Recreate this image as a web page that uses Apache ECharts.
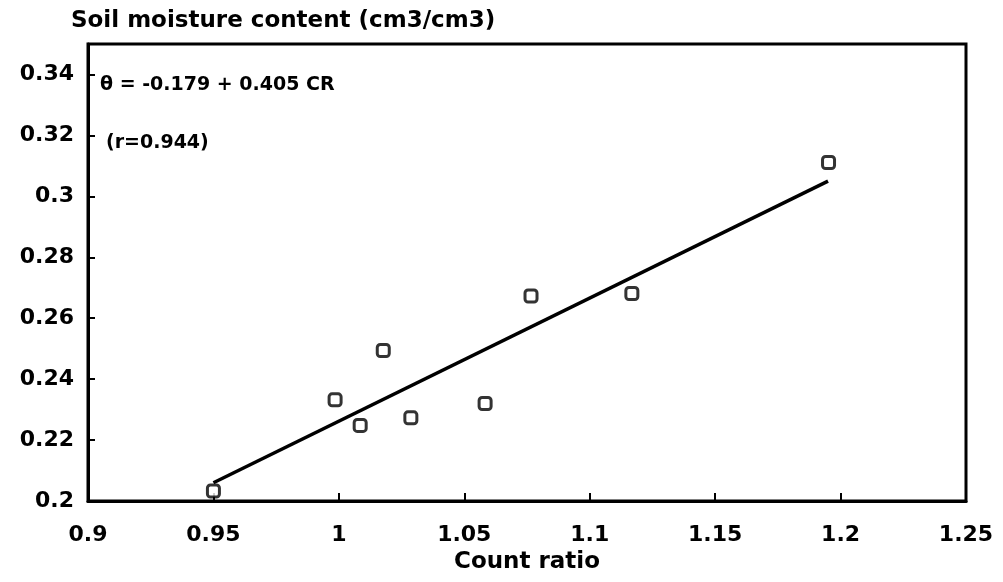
<!DOCTYPE html>
<html>
<head>
<meta charset="utf-8">
<script src="https://cdn.jsdelivr.net/npm/echarts@6/dist/echarts.min.js"></script>
<style>
  html, body { margin: 0; padding: 0; background: #fff; }
  #chart { width: 1003px; height: 582px; }
</style>
</head>
<body>
<div id="chart"></div>
<script>
// measured points (count ratio vs soil moisture)
var countRatio = [0.95, 0.9985, 1.0085, 1.0177, 1.0287, 1.0583, 1.0766, 1.1168, 1.1952];
var moisture   = [0.2033, 0.2332, 0.2248, 0.2494, 0.2273, 0.2320, 0.2673, 0.2681, 0.3111];
// regression line ends
var fitX = [0.95, 1.195];
var fitY = [0.206, 0.305];
var xTicks = [0.9, 0.95, 1, 1.05, 1.1, 1.15, 1.2, 1.25];
var yTicks = [0.2, 0.22, 0.24, 0.26, 0.28, 0.3, 0.32, 0.34];

window.onload = () => {
    var myChart = echarts.init(document.getElementById('chart'));
    var font = 'DejaVu Sans';
    myChart.setOption({
        animation: false,
        title: {
            text: 'Soil moisture content (cm3/cm3)',
            left: 66,
            top: 5,
            textStyle: { fontFamily: font, fontWeight: 'bold', fontSize: 23, color: '#000' }
        },
        grid: {
            left: 88, right: 37, top: 44, bottom: 81,
            show: true,
            borderColor: '#000',
            borderWidth: 3
        },
        graphic: [
            {
                type: 'text', left: 100, top: 76,
                style: { text: 'θ = -0.179 + 0.405 CR', fontFamily: font, fontWeight: 'bold', fontSize: 19, fill: '#000' }
            },
            {
                type: 'text', left: 106, top: 134,
                style: { text: '(r=0.944)', fontFamily: font, fontWeight: 'bold', fontSize: 19, fill: '#000' }
            }
        ],
        xAxis: {
            type: 'value',
            min: 0.9, max: 1.25, interval: 0.05,
            name: 'Count ratio',
            nameLocation: 'middle',
            nameGap: 50,
            nameTextStyle: { fontFamily: font, fontWeight: 'bold', fontSize: 23, color: '#000' },
            splitLine: { show: false },
            axisLine: { lineStyle: { color: '#000', width: 3 } },
            axisTick: { inside: true, length: 8, lineStyle: { color: '#000', width: 2 } },
            axisLabel: {
                margin: 23,
                fontFamily: font, fontWeight: 'bold', fontSize: 22, color: '#000',
                formatter: function (v) {
                    var t = xTicks.find(function (k) { return Math.abs(k - v) < 1e-6; });
                    return t === undefined ? '' : String(t);
                }
            }
        },
        yAxis: {
            type: 'value',
            min: 0.2, max: 0.35, interval: 0.02,
            splitLine: { show: false },
            axisLine: { lineStyle: { color: '#000', width: 3 } },
            axisTick: { inside: true, length: 7, lineStyle: { color: '#000', width: 2 } },
            axisLabel: {
                margin: 14,
                showMaxLabel: false,
                fontFamily: font, fontWeight: 'bold', fontSize: 22, color: '#000',
                formatter: function (v) {
                    var t = yTicks.find(function (k) { return Math.abs(k - v) < 1e-6; });
                    return t === undefined ? '' : String(t);
                }
            }
        },
        series: [
            {
                type: 'line',
                data: fitX.map(function (x, i) { return [x, fitY[i]]; }),
                showSymbol: false,
                lineStyle: { color: '#000', width: 3.5 },
                z: 2
            },
            {
                type: 'scatter',
                data: countRatio.map(function (x, i) { return [x, moisture[i]]; }),
                symbol: 'roundRect',
                symbolSize: 12,
                itemStyle: { color: '#fff', borderColor: '#000', borderWidth: 3 },
                z: 3
            }
        ]
    });
};
</script>
</body>
</html>
